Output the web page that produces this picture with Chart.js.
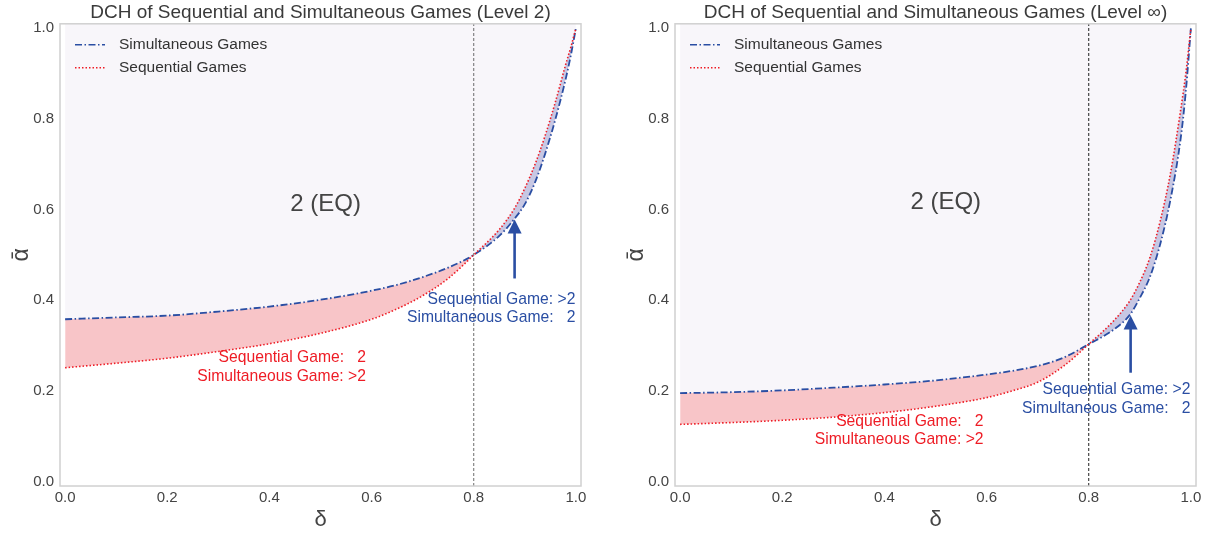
<!DOCTYPE html>
<html>
<head>
<meta charset="utf-8">
<script src="https://cdn.jsdelivr.net/npm/chart.js@4.4.1/dist/chart.umd.min.js"></script>
<style>
  html, body { margin: 0; padding: 0; background: #fff; }
  #wrap { position: relative; width: 1209px; height: 533px; }
  .box { position: absolute; top: 0; width: 600px; height: 533px; }
</style>
</head>
<body>
<div id="wrap">
  <div class="box" style="left:0"><canvas id="left" width="600" height="533"></canvas></div>
  <div class="box" style="left:615px"><canvas id="right" width="600" height="533"></canvas></div>
</div>
<script>
// discount factor delta
const delta = [0, 0.1, 0.2, 0.3, 0.4, 0.5, 0.6, 0.65, 0.7, 0.75, 0.8, 0.85, 0.88, 0.9, 0.92, 0.94, 0.96, 0.98, 0.99, 1.0];

// level 2
const simLevel2 = [0.358, 0.362, 0.366, 0.375, 0.386, 0.401, 0.421, 0.434, 0.451, 0.472, 0.5, 0.542, 0.58, 0.612, 0.66, 0.724, 0.80, 0.888, 0.94, 1.0];
const seqLevel2 = [0.251, 0.261, 0.272, 0.287, 0.304, 0.327, 0.358, 0.381, 0.41, 0.448, 0.5, 0.556, 0.603, 0.647, 0.70, 0.764, 0.838, 0.92, 0.958, 1.0];

// level infinity
const simLevelInf = [0.195, 0.197, 0.201, 0.207, 0.214, 0.223, 0.236, 0.244, 0.255, 0.273, 0.303, 0.336, 0.367, 0.405, 0.452, 0.524, 0.622, 0.757, 0.86, 1.0];
const seqLevelInf = [0.126, 0.130, 0.135, 0.142, 0.152, 0.166, 0.185, 0.2, 0.219, 0.254, 0.303, 0.356, 0.398, 0.44, 0.495, 0.575, 0.68, 0.82, 0.9, 1.0];

const tickValues = [0, 0.2, 0.4, 0.6, 0.8, 1.0];
const threshold = 0.8;
const axisMin = -0.01;
const axisMax = 1.01;

const FONT = "'Liberation Sans', Arial, Helvetica, sans-serif";
const BLUE = '#2a4ea3';
const RED = '#ee1c25';
const DASHDOT = [7, 2.5, 1.5, 2.5];
const DOTTED = [1.5, 2];

const toPoints = (ys) => delta.map((d, i) => ({ x: d, y: ys[i] }));

const decor = {
  id: 'decor',
  afterDatasetsDraw(chart, args, opts) {
    const { ctx, chartArea: a, scales: { x, y } } = chart;
    ctx.save();

    // box around the axes
    ctx.strokeStyle = '#d0d0d0';
    ctx.lineWidth = 1.5;
    ctx.strokeRect(a.left, a.top, a.right - a.left, a.bottom - a.top);

    // legend
    const legend = [
      { label: 'Simultaneous Games', color: BLUE, dash: DASHDOT },
      { label: 'Sequential Games', color: RED, dash: DOTTED },
    ];
    ctx.font = '15.5px ' + FONT;
    ctx.textBaseline = 'middle';
    ctx.textAlign = 'left';
    legend.forEach((item, i) => {
      const ly = a.top + 21 + i * 23;
      ctx.beginPath();
      ctx.setLineDash(item.dash);
      ctx.strokeStyle = item.color;
      ctx.lineWidth = 1.6;
      ctx.moveTo(a.left + 15, ly);
      ctx.lineTo(a.left + 45, ly);
      ctx.stroke();
      ctx.setLineDash([]);
      ctx.fillStyle = '#333';
      ctx.fillText(item.label, a.left + 59, ly);
    });

    // equilibrium label
    ctx.font = '24px ' + FONT;
    ctx.fillStyle = '#444';
    ctx.textAlign = 'center';
    ctx.fillText('2 (EQ)', x.getPixelForValue(opts.eq[0]), y.getPixelForValue(opts.eq[1]));

    // notes
    ctx.font = '15.7px ' + FONT;
    ctx.textAlign = 'right';
    opts.notes.forEach((n) => {
      ctx.fillStyle = n.color;
      n.lines.forEach((t, k) => {
        ctx.fillText(t, x.getPixelForValue(n.at[0]), y.getPixelForValue(n.at[1]) + k * 18.5);
      });
    });

    // arrow
    const ax = x.getPixelForValue(opts.arrow.x);
    const tail = y.getPixelForValue(opts.arrow.from);
    const tip = y.getPixelForValue(opts.arrow.to);
    ctx.strokeStyle = BLUE;
    ctx.fillStyle = BLUE;
    ctx.lineWidth = 2.6;
    ctx.beginPath();
    ctx.moveTo(ax, tail);
    ctx.lineTo(ax, tip + 12);
    ctx.stroke();
    ctx.beginPath();
    ctx.moveTo(ax, tip);
    ctx.lineTo(ax - 7, tip + 14);
    ctx.lineTo(ax + 7, tip + 14);
    ctx.closePath();
    ctx.fill();

    ctx.restore();
  }
};

function makeChart(id, title, sim, seq, opts, vlineColor) {
  return new Chart(document.getElementById(id), {
    type: 'line',
    data: {
      datasets: [
        {
          label: 'Sequential Games',
          data: toPoints(seq),
          borderColor: RED,
          borderWidth: 1.6,
          borderDash: DOTTED,
          pointRadius: 0,
          cubicInterpolationMode: 'monotone',
          fill: { target: 1, above: 'rgb(199,199,227)', below: 'rgb(248,197,200)' },
        },
        {
          label: 'Simultaneous Games',
          data: toPoints(sim),
          borderColor: BLUE,
          borderWidth: 1.8,
          borderDash: DASHDOT,
          pointRadius: 0,
          cubicInterpolationMode: 'monotone',
          fill: { target: 'end' },
          backgroundColor: 'rgb(248,246,250)',
        },
        {
          label: 'threshold',
          data: [{ x: threshold, y: axisMin }, { x: threshold, y: axisMax }],
          borderColor: vlineColor,
          borderWidth: 1,
          borderDash: [3, 2],
          pointRadius: 0,
          fill: false,
        },
      ],
    },
    options: {
      responsive: false,
      animation: false,
      layout: { padding: { right: 19 } },
      plugins: {
        legend: { display: false },
        tooltip: { enabled: false },
        filler: { drawTime: 'beforeDatasetsDraw' },
        title: {
          display: true,
          text: title,
          fullSize: false,
          color: '#3a3a3a',
          font: { family: FONT, size: 19, weight: 'normal' },
          padding: { top: 1, bottom: 0 },
        },
        decor: opts,
      },
      scales: {
        x: {
          type: 'linear',
          min: axisMin,
          max: axisMax,
          grid: { display: false, drawTicks: false },
          border: { display: false },
          afterBuildTicks: (s) => { s.ticks = tickValues.map((v) => ({ value: v })); },
          afterFit: (s) => { s.height = 47; },
          ticks: {
            autoSkip: false,
            padding: 3,
            color: '#444',
            font: { family: FONT, size: 15 },
            callback: (v) => Number(v).toFixed(1),
          },
          title: {
            display: true,
            text: 'δ',
            color: '#444',
            font: { family: FONT, size: 22 },
            padding: { top: 0, bottom: 0 },
          },
        },
        y: {
          type: 'linear',
          min: axisMin,
          max: axisMax,
          grid: { display: false, drawTicks: false },
          border: { display: false },
          afterBuildTicks: (s) => { s.ticks = tickValues.map((v) => ({ value: v })); },
          afterFit: (s) => { s.width = 60; },
          ticks: {
            autoSkip: false,
            padding: 6,
            color: '#444',
            font: { family: FONT, size: 15 },
            callback: (v) => Number(v).toFixed(1),
          },
          title: {
            display: true,
            text: 'ᾱ',
            color: '#444',
            font: { family: FONT, size: 23 },
            padding: { top: 8, bottom: 0 },
          },
        },
      },
    },
    plugins: [decor],
  });
}

makeChart('left', 'DCH of Sequential and Simultaneous Games (Level 2)', simLevel2, seqLevel2, {
  eq: [0.51, 0.611],
  notes: [
    { color: RED, at: [0.589, 0.273], lines: ['Sequential Game:   2', 'Simultaneous Game: >2'] },
    { color: BLUE, at: [0.999, 0.402], lines: ['Sequential Game: >2', 'Simultaneous Game:   2'] },
  ],
  arrow: { x: 0.88, from: 0.448, to: 0.578 },
}, 'rgba(60,60,60,0.75)');

makeChart('right', 'DCH of Sequential and Simultaneous Games (Level ∞)', simLevelInf, seqLevelInf, {
  eq: [0.52, 0.616],
  notes: [
    { color: RED, at: [0.594, 0.133], lines: ['Sequential Game:   2', 'Simultaneous Game: >2'] },
    { color: BLUE, at: [0.999, 0.2016], lines: ['Sequential Game: >2', 'Simultaneous Game:   2'] },
  ],
  arrow: { x: 0.882, from: 0.24, to: 0.366 },
}, 'rgba(20,20,20,0.95)');
</script>
</body>
</html>
